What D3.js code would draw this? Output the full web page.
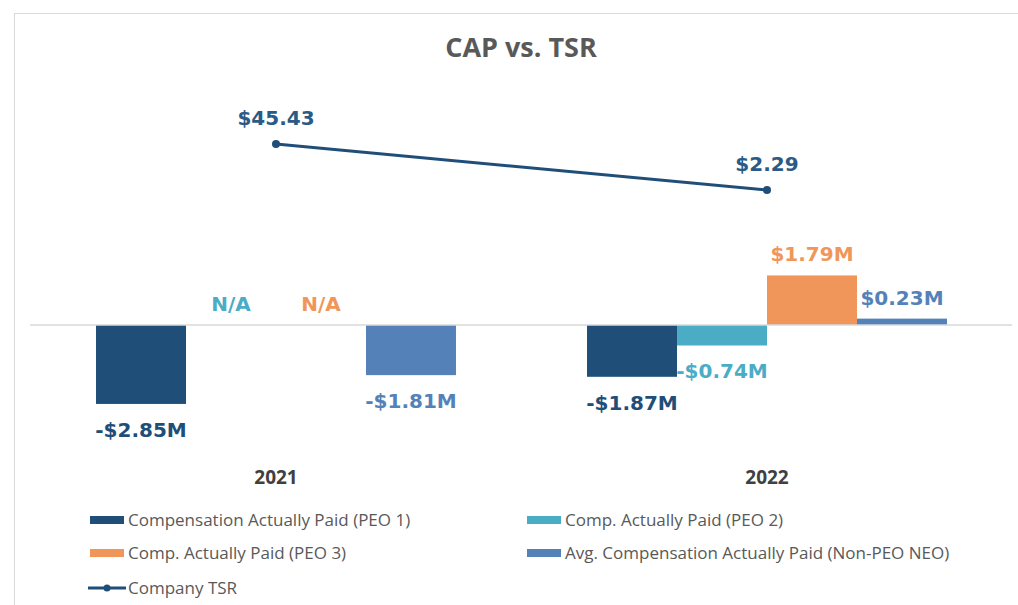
<!DOCTYPE html>
<html>
<head>
<meta charset="utf-8">
<script src="https://cdn.jsdelivr.net/npm/d3@7"></script>
<style>
  body { margin: 0; background: #fff; }
  svg { display: block; }
</style>
</head>
<body>
<svg width="1018" height="605"></svg>
<script>
// data
const years = ["2021", "2022"];
const seriesNames = [
  "Compensation Actually Paid (PEO 1)",
  "Comp. Actually Paid (PEO 2)",
  "Comp. Actually Paid (PEO 3)",
  "Avg. Compensation Actually Paid (Non-PEO NEO)"
];
const peo1 = [-2.85, -1.87];
const peo2 = [null, -0.74];
const peo3 = [null, 1.79];
const nonPeoNeo = [-1.81, 0.23];
const tsr = [45.43, 2.29];

const colors = ["#1f4e79", "#4bacc6", "#f0965a", "#5482b8"];
const labelColors = ["#1f4e79", "#4bacc6", "#f0965a", "#5482b8"];
const tsrColor = "#1f4e79";

const seriesValues = [peo1, peo2, peo3, nonPeoNeo];

const svg = d3.select("svg");

// chart frame
svg.append("rect")
    .attr("x", 14.5).attr("y", 13.5)
    .attr("width", 1020).attr("height", 620)
    .attr("fill", "#fff")
    .attr("stroke", "#d9d9d9");

svg.append("text")
    .attr("x", 521).attr("y", 57)
    .attr("text-anchor", "middle")
    .style("font-family", "'Open Sans', sans-serif")
    .style("font-weight", "bold")
    .style("font-size", "27px")
    .attr("fill", "#595959")
    .text("CAP vs. TSR");

const x0 = d3.scaleBand()
    .domain(years)
    .range([30.5, 1012.5]);

const x1 = d3.scaleBand()
    .domain(seriesNames)
    .range([0, x0.bandwidth()])
    .paddingOuter(0.728)
    .paddingInner(0);

const y = d3.scaleLinear()
    .domain([-3, 2])
    .range([408.1, 269.6]);

// secondary axis for TSR (hidden)
const y2 = d3.scaleLinear()
    .domain([0, 50])
    .range([192.4, 139.1]);

const fmt = v => v == null ? "N/A" : (v < 0 ? "-$" : "$") + Math.abs(v).toFixed(2) + "M";
const valueFont = "'DejaVu Sans', Verdana, sans-serif";

const barData = [];
years.forEach((yr, i) => {
  seriesNames.forEach((s, j) => {
    barData.push({year: yr, key: s, idx: j, value: seriesValues[j][i]});
  });
});

const chart = svg.append("g");

chart.selectAll("rect.bar")
    .data(barData.filter(d => d.value != null))
    .join("rect")
    .attr("class", "bar")
    .attr("x", d => x0(d.year) + x1(d.key))
    .attr("width", x1.bandwidth())
    .attr("y", d => y(Math.max(0, d.value)))
    .attr("height", d => Math.abs(y(d.value) - y(0)))
    .attr("fill", d => colors[d.idx]);

// zero line
chart.append("line")
    .attr("x1", 30).attr("x2", 1012)
    .attr("y1", y(0)).attr("y2", y(0))
    .attr("stroke", "#d9d9d9")
    .attr("stroke-width", 1.5);

// bar labels
chart.selectAll("text.val")
    .data(barData)
    .join("text")
    .attr("class", "val")
    .attr("x", d => x0(d.year) + x1(d.key) + x1.bandwidth() / 2)
    .attr("y", d => d.value != null && d.value < 0 ? y(d.value) + 33 : y(Math.max(0, d.value || 0)) - 14)
    .attr("text-anchor", "middle")
    .style("font-family", valueFont)
    .style("font-weight", "bold")
    .style("font-size", "20px")
    .attr("fill", d => labelColors[d.idx])
    .text(d => fmt(d.value));

// category labels
chart.selectAll("text.cat")
    .data(years)
    .join("text")
    .attr("class", "cat")
    .attr("x", d => x0(d) + x0.bandwidth() / 2)
    .attr("y", 484)
    .attr("text-anchor", "middle")
    .style("font-family", "'Open Sans', sans-serif")
    .style("font-weight", "bold")
    .style("font-size", "19px")
    .attr("fill", "#404040")
    .text(d => d);

// TSR line
const tsrData = years.map((yr, i) => ({year: yr, value: tsr[i]}));
const line = d3.line()
    .x(d => x0(d.year) + x0.bandwidth() / 2)
    .y(d => y2(d.value));

chart.append("path")
    .datum(tsrData)
    .attr("d", line)
    .attr("fill", "none")
    .attr("stroke", tsrColor)
    .attr("stroke-width", 3);

chart.selectAll("circle.tsr")
    .data(tsrData)
    .join("circle")
    .attr("class", "tsr")
    .attr("cx", d => x0(d.year) + x0.bandwidth() / 2)
    .attr("cy", d => y2(d.value))
    .attr("r", 4)
    .attr("fill", tsrColor);

chart.selectAll("text.tsr")
    .data(tsrData)
    .join("text")
    .attr("class", "tsr")
    .attr("x", d => x0(d.year) + x0.bandwidth() / 2)
    .attr("y", d => y2(d.value) - 19)
    .attr("text-anchor", "middle")
    .style("font-family", valueFont)
    .style("font-weight", "bold")
    .style("font-size", "20px")
    .attr("fill", "#2b5a87")
    .text(d => "$" + d.value.toFixed(2));

// Legend
const legendItems = seriesNames.map((s, i) => ({name: s, color: colors[i], type: "bar"}))
    .concat([{name: "Company TSR", color: tsrColor, type: "line"}]);
const legendPos = [[90, 520], [527, 520], [90, 553], [527, 553], [90, 588]];

const legend = svg.append("g")
    .selectAll("g")
    .data(legendItems)
    .join("g")
    .attr("transform", (d, i) => `translate(${legendPos[i][0]},${legendPos[i][1]})`);

legend.filter(d => d.type === "bar").append("rect")
    .attr("x", 0).attr("y", -4)
    .attr("width", 34).attr("height", 8)
    .attr("fill", d => d.color);

legend.filter(d => d.type === "line").append("line")
    .attr("x1", -2).attr("x2", 36)
    .attr("y1", 0).attr("y2", 0)
    .attr("stroke", d => d.color)
    .attr("stroke-width", 3);

legend.filter(d => d.type === "line").append("circle")
    .attr("cx", 17).attr("cy", 0).attr("r", 3.5)
    .attr("fill", d => d.color);

legend.append("text")
    .attr("x", 38)
    .attr("y", 6)
    .style("font-family", "'Open Sans', sans-serif")
    .style("font-size", "17px")
    .attr("fill", "#595959")
    .text(d => d.name);
</script>
</body>
</html>
